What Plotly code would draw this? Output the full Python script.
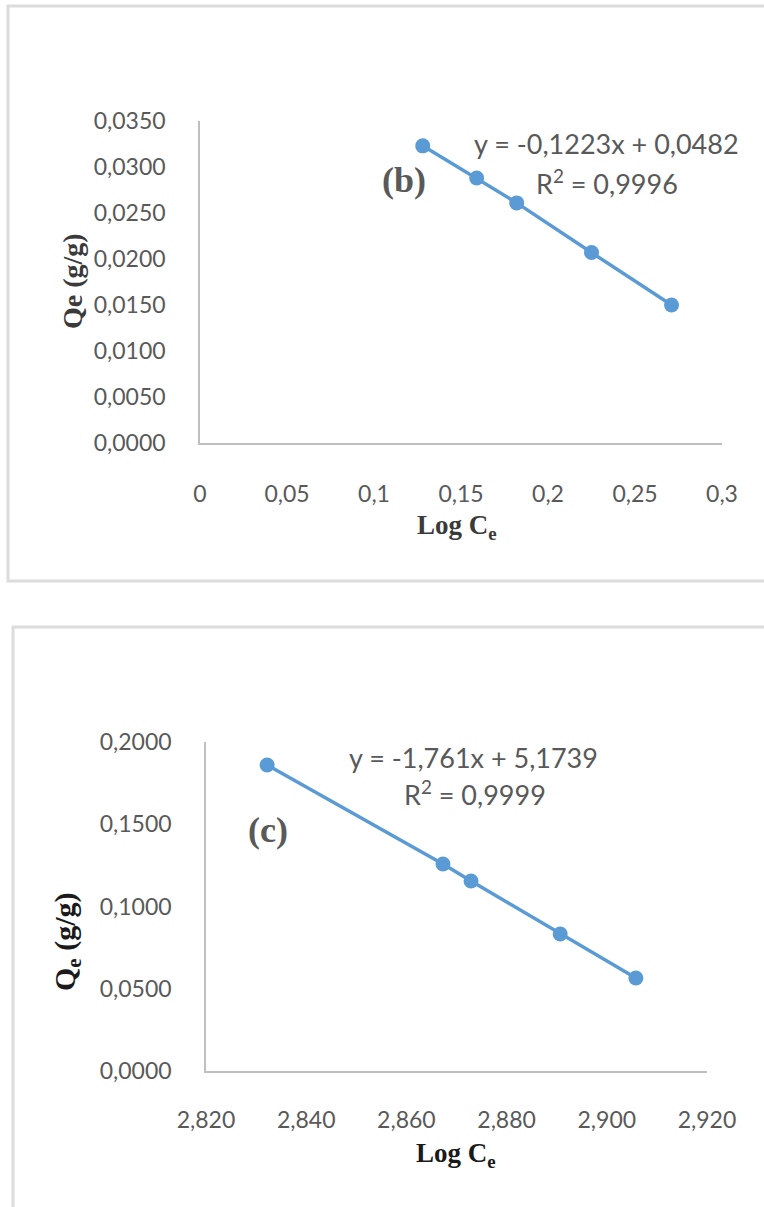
import plotly.graph_objects as go

# Panel (b)
log_ce_b = [0.128, 0.159, 0.182, 0.225, 0.271]
qe_b = [0.0323, 0.0288, 0.0261, 0.0207, 0.0150]
xticks_b = [0, 0.05, 0.1, 0.15, 0.2, 0.25, 0.3]
xtext_b = ["0", "0,05", "0,1", "0,15", "0,2", "0,25", "0,3"]
yticks_b = [0, 0.005, 0.01, 0.015, 0.02, 0.025, 0.03, 0.035]
ytext_b = ["0,0000", "0,0050", "0,0100", "0,0150", "0,0200", "0,0250", "0,0300", "0,0350"]

# Panel (c)
log_ce_c = [2.8322, 2.8673, 2.8729, 2.8907, 2.9058]
qe_c = [0.1860, 0.1258, 0.1155, 0.0833, 0.0565]
xticks_c = [2.82, 2.84, 2.86, 2.88, 2.90, 2.92]
xtext_c = ["2,820", "2,840", "2,860", "2,880", "2,900", "2,920"]
yticks_c = [0, 0.05, 0.1, 0.15, 0.2]
ytext_c = ["0,0000", "0,0500", "0,1000", "0,1500", "0,2000"]

W, H = 764, 1207
BLUE = "#5B9BD5"
GREY_TXT = "#595959"
AXIS = "#BFBFBF"
LATO = "Lato, Open Sans, sans-serif"
SERIF = "Liberation Serif, Times New Roman, serif"
TICK_FONT = dict(family=LATO, size=23, color=GREY_TXT)


def px(x):
    return x / W


def py(y):
    return 1 - y / H


fig = go.Figure()
fig.add_trace(go.Scatter(
    x=log_ce_b, y=qe_b, mode="lines+markers", xaxis="x", yaxis="y",
    line=dict(color=BLUE, width=3.5), marker=dict(color=BLUE, size=15),
    showlegend=False))
fig.add_trace(go.Scatter(
    x=log_ce_c, y=qe_c, mode="lines+markers", xaxis="x2", yaxis="y2",
    line=dict(color=BLUE, width=3.5), marker=dict(color=BLUE, size=15),
    showlegend=False))

common = dict(showgrid=False, zeroline=False, showline=True, linecolor=AXIS,
              linewidth=1.5, ticks="", tickfont=TICK_FONT, fixedrange=True,
              automargin=False)

fig.update_layout(
    width=W, height=H, margin=dict(l=0, r=0, t=0, b=0, autoexpand=False),
    paper_bgcolor="white", plot_bgcolor="white",
    xaxis=dict(domain=[px(200), px(722)], range=[0, 0.3], anchor="y",
               tickvals=xticks_b, ticktext=xtext_b, ticklabelstandoff=30, **common),
    yaxis=dict(domain=[py(443), py(121)], range=[0, 0.035], anchor="x",
               tickvals=yticks_b, ticktext=ytext_b, ticklabelstandoff=28, **common),
    xaxis2=dict(domain=[px(206), px(707)], range=[2.82, 2.92], anchor="y2",
                tickvals=xticks_c, ticktext=xtext_c, ticklabelstandoff=28, **common),
    yaxis2=dict(domain=[py(1071), py(742)], range=[0, 0.2], anchor="x2",
                tickvals=yticks_c, ticktext=ytext_c, ticklabelstandoff=28, **common),
)

# Light frames around each panel
fig.add_shape(type="rect", xref="paper", yref="paper",
              x0=px(8), x1=px(790), y0=py(581), y1=py(6),
              line=dict(color="#DCDCDC", width=3), layer="below")
fig.add_shape(type="rect", xref="paper", yref="paper",
              x0=px(13), x1=px(790), y0=py(1240), y1=py(627),
              line=dict(color="#DCDCDC", width=3), layer="below")


def note(text, x, y, size, family, color, bold=False, angle=0):
    if bold:
        text = "<b>" + text + "</b>"
    fig.add_annotation(text=text, x=px(x), y=py(y), xref="paper", yref="paper",
                       showarrow=False, textangle=angle, xanchor="center",
                       yanchor="middle",
                       font=dict(size=size, family=family, color=color))


# Panel (b) text
note("y = -0,1223x + 0,0482", 606, 143, 27, LATO, GREY_TXT)
note("R<sup>2</sup> = 0,9996", 607, 182, 27, LATO, GREY_TXT)
note("(b)", 404, 180, 36, SERIF, GREY_TXT, bold=True)
note("Log C<sub>e</sub>", 457, 527, 27, SERIF, "#3A3A3A", bold=True)
note("Qe (g/g)", 73, 281, 28, SERIF, "#3A3A3A", bold=True, angle=-90)

# Panel (c) text
note("y = -1,761x + 5,1739", 473, 757, 27, LATO, GREY_TXT)
note("R<sup>2</sup> = 0,9999", 475, 793, 27, LATO, GREY_TXT)
note("(c)", 268, 830, 36, SERIF, GREY_TXT, bold=True)
note("Log C<sub>e</sub>", 456, 1155, 27, SERIF, "#1A1A1A", bold=True)
note("Q<sub>e</sub> (g/g)", 67, 942, 30, SERIF, "#1A1A1A", bold=True, angle=-90)

fig.write_html("out.html")
